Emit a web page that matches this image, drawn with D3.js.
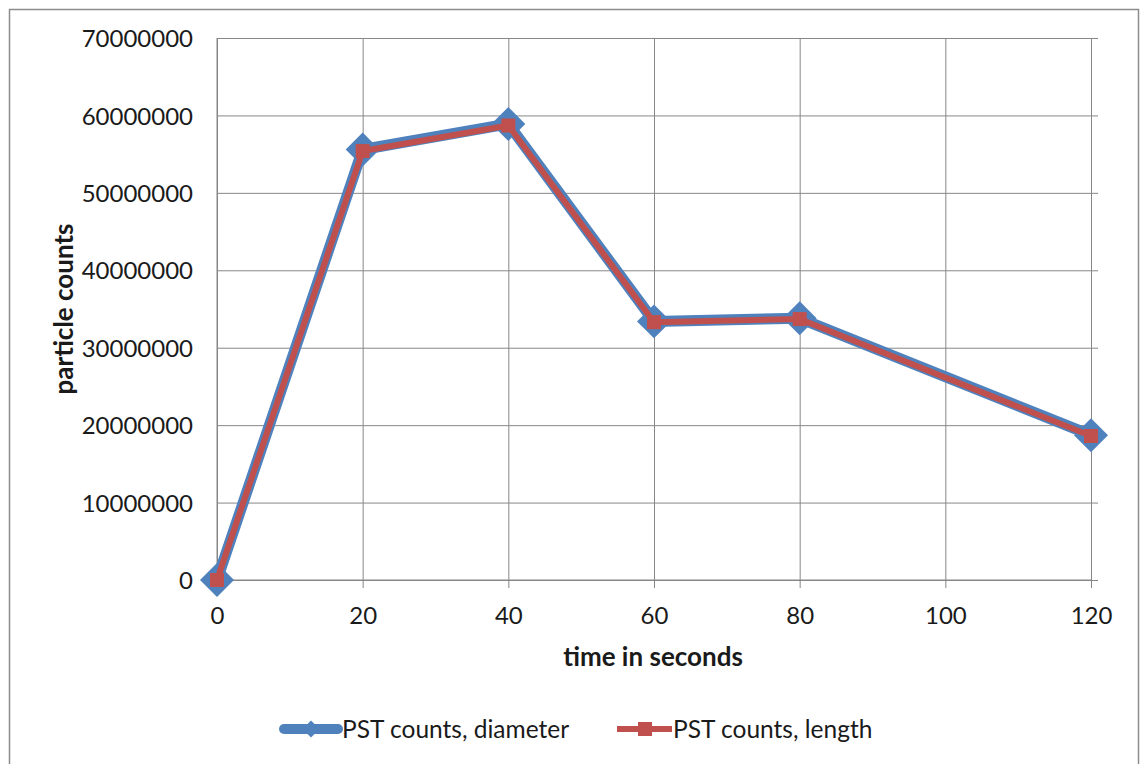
<!DOCTYPE html>
<html>
<head>
<meta charset="utf-8">
<script src="https://cdn.jsdelivr.net/npm/d3@7"></script>
<style>
  html, body { margin: 0; padding: 0; background: #fff; }
  svg { display: block; }
  text { font-family: Lato, "Open Sans", sans-serif; fill: #1a1a1a; }
</style>
</head>
<body>
<svg id="chart" width="1140" height="764"></svg>
<script>
// Particle counts over time
const timeSeconds = [0, 20, 40, 60, 80, 120];
const countsDiameter = [0, 55600000, 58900000, 33400000, 33800000, 18700000];
const countsLength = [0, 55400000, 58700000, 33300000, 33700000, 18600000];
const xTicks = [0, 20, 40, 60, 80, 100, 120];
const yTicks = [0, 10000000, 20000000, 30000000, 40000000, 50000000, 60000000, 70000000];
const seriesNames = ["PST counts, diameter", "PST counts, length"];

const svg = d3.select("#chart");
const plot = { left: 217, right: 1091, top: 38, bottom: 580 };
const blue = "#4F81BD", red = "#C0504D", grid = "#878787";

// Outer chart frame
svg.append("rect")
  .attr("x", 9.5).attr("y", 9.5)
  .attr("width", 1129).attr("height", 770)
  .attr("fill", "none").attr("stroke", "#8c8c8c").attr("stroke-width", 1.5);

const x = d3.scaleLinear().domain([0, 120]).range([plot.left, plot.right]);
const y = d3.scaleLinear().domain([0, 70000000]).range([plot.bottom, plot.top]);

// Horizontal gridlines + y axis
const yAxis = d3.axisLeft(y).tickValues(yTicks).tickFormat(d3.format("d"))
  .tickSize(plot.right - plot.left);
const gy = svg.append("g")
  .attr("transform", `translate(${plot.right},0)`)
  .call(yAxis);
gy.select(".domain").remove();
gy.selectAll(".tick line").attr("stroke", grid).attr("stroke-width", 1)
  .attr("x1", 7);
gy.selectAll(".tick text").style("font-size", "24px").attr("dy", "0.36em")
  .attr("x", -(plot.right - plot.left) - 24).attr("fill", "#1a1a1a");

// Vertical gridlines + x axis
const xAxis = d3.axisBottom(x).tickValues(xTicks).tickFormat(d3.format("d"))
  .tickSize(plot.bottom - plot.top);
const gx = svg.append("g")
  .attr("transform", `translate(0,${plot.top})`)
  .call(xAxis);
gx.select(".domain").remove();
gx.selectAll(".tick line").attr("stroke", grid).attr("stroke-width", 1)
  .attr("y2", plot.bottom - plot.top + 8);
gx.selectAll(".tick text").style("font-size", "24px")
  .attr("y", plot.bottom - plot.top + 27).attr("dy", "0.71em").attr("fill", "#1a1a1a");

// Axis frame lines (left and bottom)
svg.append("line").attr("x1", plot.left).attr("x2", plot.left)
  .attr("y1", plot.top).attr("y2", plot.bottom).attr("stroke", grid);
svg.append("line").attr("x1", plot.left - 7).attr("x2", plot.right)
  .attr("y1", plot.bottom).attr("y2", plot.bottom).attr("stroke", grid);

// Axis titles
svg.append("text")
  .attr("transform", `translate(73,${(plot.top + plot.bottom) / 2}) rotate(-90)`)
  .attr("text-anchor", "middle")
  .style("font-size", "26px").style("font-weight", "bold")
  .text("particle counts");
svg.append("text")
  .attr("x", 653).attr("y", 666)
  .attr("text-anchor", "middle")
  .style("font-size", "26px").style("font-weight", "bold")
  .text("time in seconds");

const line = d3.line().x(d => x(d[0])).y(d => y(d[1]));

// Diameter series: thick blue line with diamond markers
const dPts = timeSeconds.map((t, i) => [t, countsDiameter[i]]);
svg.append("path").datum(dPts)
  .attr("d", line).attr("fill", "none")
  .attr("stroke", blue).attr("stroke-width", 11).attr("stroke-linejoin", "round");
svg.append("g").selectAll("path").data(dPts).join("path")
  .attr("d", d3.symbol().type(d3.symbolSquare).size(24 * 24))
  .attr("transform", d => `translate(${x(d[0])},${y(d[1])}) rotate(45)`)
  .attr("fill", blue);

// Length series: red line with square markers
const lPts = timeSeconds.map((t, i) => [t, countsLength[i]]);
svg.append("path").datum(lPts)
  .attr("d", line).attr("fill", "none")
  .attr("stroke", red).attr("stroke-width", 6).attr("stroke-linejoin", "round");
svg.append("g").selectAll("rect").data(lPts).join("rect")
  .attr("x", d => x(d[0]) - 7).attr("y", d => y(d[1]) - 7)
  .attr("width", 14).attr("height", 14)
  .attr("fill", red);

// Legend
const leg = svg.append("g");
leg.append("line").attr("x1", 284).attr("x2", 338).attr("y1", 729).attr("y2", 729)
  .attr("stroke", blue).attr("stroke-width", 10).attr("stroke-linecap", "round");
leg.append("path").attr("d", d3.symbol().type(d3.symbolSquare).size(12 * 12))
  .attr("transform", "translate(311,729) rotate(45)").attr("fill", blue);
leg.append("text").attr("x", 342).attr("y", 729).attr("dy", "0.35em")
  .style("font-size", "24.5px").text(seriesNames[0]);

leg.append("line").attr("x1", 617).attr("x2", 672).attr("y1", 729).attr("y2", 729)
  .attr("stroke", red).attr("stroke-width", 6);
leg.append("rect").attr("x", 638).attr("y", 722).attr("width", 14).attr("height", 14)
  .attr("fill", red);
leg.append("text").attr("x", 673).attr("y", 729).attr("dy", "0.35em")
  .style("font-size", "24.5px").text(seriesNames[1]);
</script>
</body>
</html>
